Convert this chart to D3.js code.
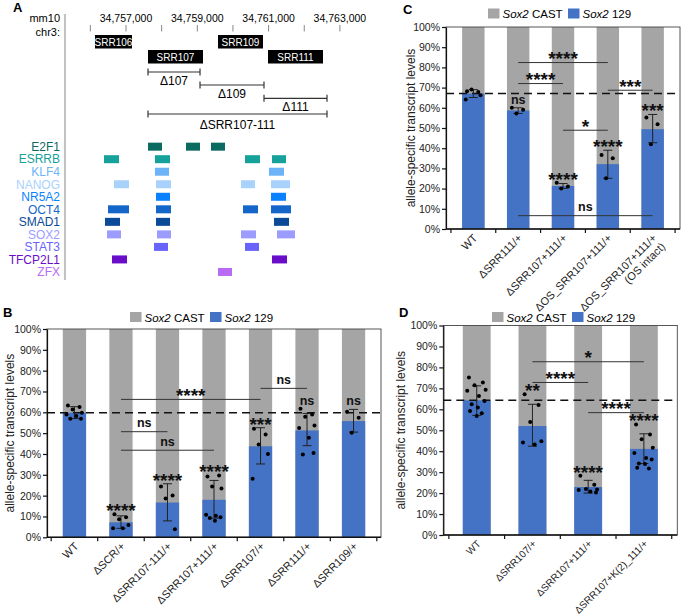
<!DOCTYPE html>
<html><head><meta charset="utf-8">
<script src="https://cdn.jsdelivr.net/npm/d3@7"></script>
<style>body{margin:0;background:#fff}svg{display:block;font-family:"Liberation Sans",Arial,sans-serif}</style>
</head><body><svg id="c" width="682" height="616"></svg>
<script>
// ---------------- DATA ----------------
// Panel A: genomic map (mm10 chr3)
const genomeTicks = d3.range(34756000, 34763001, 1000);
const genomeLabels = [34757000, 34759000, 34761000, 34763000];
const regionNames = ["SRR106", "SRR107", "SRR109", "SRR111"];
const regionStart = [34756130, 34757617, 34759581, 34760983];
const regionEnd   = [34757168, 34759160, 34760843, 34762526];
const regionRow   = [0, 1, 0, 1];
const delNames = ["Δ107", "Δ109", "Δ111", "ΔSRR107-111"];
const delStart = [34757617, 34759076, 34760871, 34757617];
const delEnd   = [34759076, 34760871, 34762638, 34762638];
const tfNames = ["E2F1","ESRRB","KLF4","NANOG","NR5A2","OCT4","SMAD1","SOX2","STAT3","TFCP2L1","ZFX"];
const tfSites = [
  [[34757617,34758010],[34758683,34759076],[34759384,34759777]],
  [[34756383,34756804],[34757813,34758234],[34760338,34760759],[34761095,34761488]],
  [[34757813,34758206],[34761011,34761432]],
  [[34756663,34757084],[34757842,34758262],[34760226,34760618],[34761067,34761600]],
  [[34757842,34758234],[34761067,34761488]],
  [[34756495,34757084],[34757842,34758262],[34760282,34760703],[34761067,34761628]],
  [[34756411,34756832],[34757842,34758234],[34761151,34761572]],
  [[34756467,34756860],[34757870,34758262],[34760226,34760647],[34761236,34761740]],
  [[34757785,34758178],[34760338,34760731]],
  [[34756607,34757028],[34761095,34761516]],
  [[34759581,34759973]]
];

// Panel B
const bCats  = ["WT","ΔSCR/+","ΔSRR107-111/+","ΔSRR107+111/+","ΔSRR107/+","ΔSRR111/+","ΔSRR109/+"];
const bMeans = [59.8, 7.2, 16.7, 18.0, 43.7, 51.3, 55.8];
const bHi    = [62.7, 10.3, 25.7, 27.3, 52.6, 59.5, 61.4];
const bLo    = [57.0, 4.3, 7.9, 9.2, 35.2, 44.0, 50.5];
const bPts = [
  [63.3, 62.5, 61.4, 59.8, 59.0, 58.2, 56.9, 56.9],
  [11.1, 9.6, 8.7, 5.9, 4.3, 4.3],
  [24.4, 20.1, 18.6, 3.9],
  [29.2, 29.7, 24.4, 23.4, 10.8, 10.3, 9.6, 9.3, 8.0],
  [52.1, 49.3, 44.5, 40.0, 28.1],
  [61.7, 59.0, 57.9, 53.7, 52.5, 47.8, 40.5, 39.7],
  [60.3, 57.4, 50.2]
];
const bSig = ["", "****", "****", "****", "***", "ns", "ns"];
const bComps = [[1,4,66.2,"****"],[4,5,71.5,"ns"],[1,2,50.7,"ns"],[1,3,41.8,"ns"]];

// Panel C
const cCats  = ["WT","ΔSRR111/+","ΔSRR107+111/+","ΔOS_SRR107+111/+","ΔOS_SRR107+111/+|(OS intact)"];
const cMeans = [67.1, 58.7, 21.3, 32.1, 49.4];
const cHi    = [69.0, 60.0, 22.5, 39.0, 56.7];
const cLo    = [65.1, 57.2, 20.1, 25.1, 42.7];
const cPts = [
  [68.2, 67.8, 69.0, 66.2, 64.1],
  [60.0, 59.0, 57.2],
  [22.9, 21.0, 20.0],
  [36.6, 35.0, 25.1],
  [55.2, 51.9, 42.0]
];
const cSig = ["", "ns", "****", "****", "***"];
const cComps = [[1,3,82.4,"****"],[1,2,72.0,"****"],[3,4,68.7,"***"],[2,3,48.9,"*"],[1,4,6.6,"ns"]];

// Panel D
const dCats  = ["WT","ΔSRR107/+","ΔSRR107+111/+","ΔSRR107+K(2)_111/+"];
const dMeans = [64.3, 52.0, 22.9, 41.1];
const dHi    = [71.2, 62.4, 26.1, 48.3];
const dLo    = [57.1, 42.4, 20.0, 34.1];
const dPts = [
  [75.2, 72.8, 71.5, 69.3, 68.8, 66.4, 64.0, 62.4, 60.8, 59.2, 58.1, 56.8],
  [67.2, 62.1, 53.9, 44.8, 44.1, 43.2],
  [28.3, 24.0, 21.9, 21.7, 21.5, 20.8, 20.3],
  [52.8, 48.0, 45.7, 41.6, 39.2, 36.8, 36.0, 34.1, 33.9, 32.1, 31.8]
];
const dSig = ["", "**", "****", "****"];
const dComps = [[1,3,82.7,"*"],[1,2,72.8,"****"],[2,3,58.4,"****"]];

const yTicks = d3.range(0, 101, 10);

// ---------------- STYLE ----------------
const GRAY = "#a5a5a5", BLUE = "#4472c4";
const tfColors = ["#0b6b60","#16a19a","#6cb4f7","#a8d2fc","#0a82ff","#1466c9","#0a4a97","#9c9cff","#6a63fb","#6a0dc8","#b86af5"];
const jitter = [-0.28, 0.22, -0.08, 0.32, -0.34, 0.08, 0.28, -0.18, 0.04, -0.24, 0.18, 0.0];

const svg = d3.select("#c");

// ---------------- PANEL A ----------------
(function(){
  const g = svg.append("g");
  const x = d3.scaleLinear().domain([34757000, 34759000]).range([126, 197.3]);
  g.append("text").attr("x", 13).attr("y", 12).attr("font-size", 13).attr("font-weight", "bold").text("A");
  g.append("text").attr("x", 60).attr("y", 22).attr("text-anchor", "end").attr("font-size", 11).text("mm10");
  g.append("text").attr("x", 60).attr("y", 35.5).attr("text-anchor", "end").attr("font-size", 11).text("chr3:");
  g.append("line").attr("x1", 65).attr("x2", 65).attr("y1", 14).attr("y2", 280).attr("stroke", "#999").attr("stroke-width", 1.2);
  g.selectAll("line.gt").data(genomeTicks).join("line").attr("class", "gt")
    .attr("x1", d => x(d)).attr("x2", d => x(d)).attr("y1", 25).attr("y2", 31.5)
    .attr("stroke", "#888").attr("stroke-width", 1);
  g.selectAll("text.gl").data(genomeLabels).join("text").attr("class", "gl")
    .attr("x", d => x(d)).attr("y", 21.5).attr("text-anchor", "middle").attr("font-size", 10.5)
    .text(d => d3.format(",")(d));
  const rowY = [35, 50], boxH = 13.5;
  regionNames.forEach((n, i) => {
    g.append("rect").attr("x", x(regionStart[i])).attr("y", rowY[regionRow[i]])
      .attr("width", x(regionEnd[i]) - x(regionStart[i])).attr("height", boxH).attr("fill", "#000");
    g.append("text").attr("x", (x(regionStart[i]) + x(regionEnd[i])) / 2).attr("y", rowY[regionRow[i]] + 10.5)
      .attr("text-anchor", "middle").attr("font-size", 10).attr("fill", "#fff").text(n);
  });
  const delY = [72, 85, 98.3, 114], delLab = [85, 98.3, 111, 129];
  delNames.forEach((n, i) => {
    const a = x(delStart[i]), b = x(delEnd[i]), yy = delY[i];
    g.append("line").attr("x1", a).attr("x2", b).attr("y1", yy).attr("y2", yy).attr("stroke", "#333").attr("stroke-width", 1.2);
    [a, b].forEach(v => g.append("line").attr("x1", v).attr("x2", v).attr("y1", yy - 3.5).attr("y2", yy + 3.5).attr("stroke", "#333").attr("stroke-width", 1.2));
    g.append("text").attr("x", (a + b) / 2).attr("y", delLab[i]).attr("text-anchor", "middle").attr("font-size", 12).text(n);
  });
  const ty = d3.scaleBand().domain(tfNames).range([140.4, 140.4 + 11 * 12.53]);
  tfNames.forEach((n, i) => {
    const cy = ty(n) + ty.step() / 2;
    g.append("text").attr("x", 60).attr("y", cy + 4.3).attr("text-anchor", "end").attr("font-size", 12)
      .attr("fill", tfColors[i]).text(n);
    g.selectAll(null).data(tfSites[i]).join("rect")
      .attr("x", d => x(d[0])).attr("width", d => x(d[1]) - x(d[0]))
      .attr("y", cy - 4).attr("height", 8).attr("fill", tfColors[i]);
  });
})();

// ---------------- BAR PANELS ----------------
function barPanel(o) {
  const g = svg.append("g");
  const x = d3.scaleBand().domain(o.cats).range([o.left, o.right]).paddingInner(0.5).paddingOuter(o.po);
  const y = d3.scaleLinear().domain([0, 100]).range([o.bottom, o.top]);
  const bw = x.bandwidth(), step = x.step(), cx = c => x(c) + bw / 2;
  g.append("text").attr("x", o.letter[0]).attr("y", o.letter[1]).attr("font-size", 13).attr("font-weight", "bold").text(o.letter[2]);
  // legend
  const L = o.legend;
  [[GRAY, "CAST", 0], [BLUE, "129", 80]].forEach(([col, t, dx]) => {
    g.append("rect").attr("x", L[0] + dx).attr("y", L[1]).attr("width", 11.5).attr("height", 10).attr("fill", col);
    const tx = g.append("text").attr("x", L[0] + dx + 14.5).attr("y", L[1] + 9.5).attr("font-size", 11.5);
    tx.append("tspan").attr("font-style", "italic").text("Sox2");
    tx.append("tspan").text(" " + t);
  });
  // bars
  g.selectAll("rect.bg").data(o.cats).join("rect").attr("class", "bg")
    .attr("x", d => x(d)).attr("y", y(100)).attr("width", bw).attr("height", y(0) - y(100)).attr("fill", GRAY);
  g.selectAll("rect.fg").data(o.cats).join("rect").attr("class", "fg")
    .attr("x", d => x(d)).attr("y", (d, i) => y(o.means[i])).attr("width", bw)
    .attr("height", (d, i) => y(0) - y(o.means[i])).attr("fill", BLUE);
  // frame
  g.append("rect").attr("x", o.left).attr("y", y(100)).attr("width", o.right - o.left).attr("height", y(0) - y(100))
    .attr("fill", "none").attr("stroke", "#444").attr("stroke-width", 0.9);
  // dashed reference at WT mean
  g.append("line").attr("x1", o.left).attr("x2", o.right).attr("y1", y(o.means[0])).attr("y2", y(o.means[0]))
    .attr("stroke", "#111").attr("stroke-width", 1.6).attr("stroke-dasharray", "8,5");
  // y axis
  const ya = g.append("g").attr("transform", `translate(${o.left},0)`)
    .call(d3.axisLeft(y).tickValues(yTicks).tickFormat(d => d + "%").tickSize(4).tickPadding(2).tickSizeOuter(0));
  ya.selectAll("text").attr("font-size", 10.5).attr("font-family", "Liberation Sans, Arial, sans-serif").attr("fill", "#222");
  ya.selectAll("line,path").attr("stroke", "#111").attr("stroke-width", 1.2);
  g.append("text").attr("transform", `translate(${o.titleX},${(o.top + o.bottom) / 2}) rotate(-90)`)
    .attr("text-anchor", "middle").attr("font-size", 12).attr("fill", "#222").text("allele-specific transcript levels");
  // x axis
  g.append("line").attr("x1", o.left).attr("x2", o.right).attr("y1", y(0)).attr("y2", y(0)).attr("stroke", "#111").attr("stroke-width", 1.4);
  const bounds = o.cats.map(c => x(c) - (step - bw) / 2).concat([x(o.cats[o.cats.length - 1]) + bw + (step - bw) / 2]);
  g.selectAll("line.xt").data(bounds).join("line").attr("class", "xt")
    .attr("x1", d => d).attr("x2", d => d).attr("y1", y(0)).attr("y2", y(0) + 4).attr("stroke", "#111").attr("stroke-width", 1.2);
  o.cats.forEach(c => {
    const parts = c.split("|");
    const t = g.append("text").attr("transform", `translate(${cx(c) + 2},${y(0) + 7}) rotate(-45)`)
      .attr("text-anchor", "end").attr("font-size", o.xfs).attr("fill", "#222");
    parts.forEach((p, k) => t.append("tspan").attr("x", 0).attr("dy", k === 0 ? "0.35em" : "1.1em").text(p));
  });
  // error bars and points
  o.cats.forEach((c, i) => {
    const xc = cx(c);
    g.append("line").attr("x1", xc).attr("x2", xc).attr("y1", y(o.hi[i])).attr("y2", y(o.lo[i])).attr("stroke", "#222").attr("stroke-width", 1);
    [o.hi[i], o.lo[i]].forEach(v => g.append("line").attr("x1", xc - 4.5).attr("x2", xc + 4.5).attr("y1", y(v)).attr("y2", y(v)).attr("stroke", "#222").attr("stroke-width", 1));
    g.selectAll(null).data(o.pts[i]).join("circle")
      .attr("cx", (d, k) => xc + jitter[k % jitter.length] * bw).attr("cy", d => y(d)).attr("r", 2).attr("fill", "#000");
    if (o.sig[i]) {
      const top = y(Math.max(o.hi[i], d3.max(o.pts[i]))) - 8;
      sigText(g, xc, top, o.sig[i]);
    }
  });
  // comparisons
  o.comps.forEach(([a, b, lvl, lab]) => {
    const xa = cx(o.cats[a]), xb = cx(o.cats[b]);
    g.append("line").attr("x1", xa).attr("x2", xb).attr("y1", y(lvl)).attr("y2", y(lvl)).attr("stroke", "#333").attr("stroke-width", 1);
    sigText(g, (xa + xb) / 2, y(lvl) - 8.5, lab);
  });
}
function sigText(g, xc, cy, lab) {
  if (lab === "ns") {
    g.append("text").attr("x", xc).attr("y", cy + 4).attr("text-anchor", "middle")
      .attr("font-size", 12.5).attr("font-weight", "bold").attr("fill", "#111").text(lab);
  } else {
    const fs = 19;
    g.append("text").attr("x", xc).attr("y", cy + 0.58 * fs).attr("text-anchor", "middle")
      .attr("font-size", fs).attr("font-weight", "bold").attr("fill", "#111").text(lab);
  }
}

barPanel({cats: bCats, means: bMeans, hi: bHi, lo: bLo, pts: bPts, sig: bSig, comps: bComps, xfs: 11,
  left: 47, right: 381, top: 329, bottom: 537.3, po: 0.34, legend: [130, 312], titleX: 14, letter: [3, 317, "B"]});
barPanel({cats: cCats, means: cMeans, hi: cHi, lo: cLo, pts: cPts, sig: cSig, comps: cComps, xfs: 11,
  left: 446, right: 680, top: 27, bottom: 229, po: 0.36, legend: [488, 8.5], titleX: 415, letter: [403, 14, "C"]});
barPanel({cats: dCats, means: dMeans, hi: dHi, lo: dLo, pts: dPts, sig: dSig, comps: dComps, xfs: 10,
  left: 443.3, right: 677.3, top: 325.5, bottom: 535, po: 0.35, legend: [492, 312], titleX: 405, letter: [399, 317, "D"]});
</script></body></html>
